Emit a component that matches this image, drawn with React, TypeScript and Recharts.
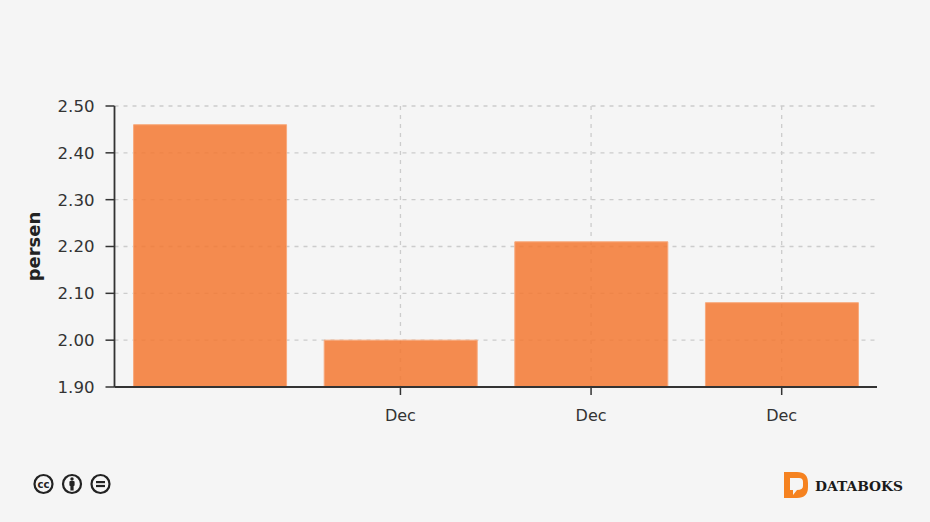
import React from "react";
import { BarChart, Bar, XAxis, YAxis, CartesianGrid } from "recharts";

const categoryKeys = ["p0", "p1", "p2", "p3"];
const values = [2.46, 2.0, 2.21, 2.08];
const labelledKeys = ["p1", "p2", "p3"];
const tickLabel = "Dec";
const yTicks = [1.9, 2.0, 2.1, 2.2, 2.3, 2.4, 2.5];
const yLabel = "persen";
const brand = "DATABOKS";

const data = categoryKeys.map((key, i) => ({ key, value: values[i] }));
const INK = "#333333";
const FONT = "'DejaVu Sans', Verdana, sans-serif";

function Badge({ cx, kind }: { cx: number; kind: "cc" | "by" | "eq" }) {
  const cy = 484;
  return (
    <g>
      <circle cx={cx} cy={cy} r={9} fill="#f5f5f5" stroke="#222" strokeWidth={2.2} />
      {kind === "cc" && (
        <text x={cx} y={cy + 3.5} textAnchor="middle" fontFamily={FONT} fontWeight="bold" fontSize={10} fill="#222">
          cc
        </text>
      )}
      {kind === "by" && (
        <g fill="#222">
          <circle cx={cx} cy={cy - 5} r={1.7} />
          <rect x={cx - 2.6} y={cy - 3} width={5.2} height={5} rx={1} />
          <rect x={cx - 1.6} y={cy + 1} width={3.2} height={5.5} />
        </g>
      )}
      {kind === "eq" && (
        <g fill="#222">
          <rect x={cx - 4.5} y={cy - 3} width={9} height={2.2} />
          <rect x={cx - 4.5} y={cy + 0.9} width={9} height={2.2} />
        </g>
      )}
    </g>
  );
}

export default function App() {
  return (
    <div style={{ position: "absolute", left: 0, top: 0, width: 930, height: 522, background: "#f5f5f5", overflow: "hidden" }}>
      <BarChart
        width={930}
        height={522}
        data={data}
        margin={{ top: 106, right: 53, bottom: 0, left: 0 }}
        barCategoryGap="10%"
      >
        <CartesianGrid stroke="#cccccc" strokeWidth={1.3} strokeDasharray="4 5" syncWithTicks />
        <XAxis
          dataKey="key"
          ticks={labelledKeys}
          tickFormatter={() => tickLabel}
          stroke={INK}
          axisLine={{ stroke: INK, strokeWidth: 1.8 }}
          tickLine={{ stroke: INK, strokeWidth: 1.5 }}
          tickSize={8}
          tickMargin={15}
          tick={{ fill: INK, fontSize: 16, fontFamily: FONT }}
          height={135}
        />
        <YAxis
          width={114.5}
          domain={[1.9, 2.5]}
          ticks={yTicks}
          interval={0}
          tickFormatter={(v: number) => v.toFixed(2)}
          axisLine={{ stroke: INK, strokeWidth: 1.8 }}
          tickLine={{ stroke: INK, strokeWidth: 1.5 }}
          tickSize={9}
          tickMargin={11}
          tick={{ fill: INK, fontSize: 16.6, fontFamily: FONT }}
          label={{
            value: yLabel,
            angle: -90,
            position: "insideLeft",
            offset: 34,
            style: { textAnchor: "middle", fontFamily: FONT, fontSize: 18, fontWeight: "bold", fill: "#222" },
          }}
        />
        <Bar dataKey="value" fill="#f37831" fillOpacity={0.85} stroke="#f8a97c" strokeWidth={1} isAnimationActive={false} />
      </BarChart>
      <svg width={930} height={522} style={{ position: "absolute", left: 0, top: 0, pointerEvents: "none" }}>
        <Badge cx={43.5} kind="cc" />
        <Badge cx={72} kind="by" />
        <Badge cx={100.5} kind="eq" />
        <path
          fillRule="evenodd"
          fill="#f58220"
          d="M784 472 H797 Q808 472 808 483 V487 Q808 498 797 498 H784 Z M790 478 V490 H793 V495 L797 490 Q803 490 803 486 V482 Q803 478 799 478 Z"
        />
        <text x={815} y={491} fontFamily="'DejaVu Serif', serif" fontWeight="bold" fontSize={13.8} fill="#1a1a1a">
          {brand}
        </text>
      </svg>
    </div>
  );
}
